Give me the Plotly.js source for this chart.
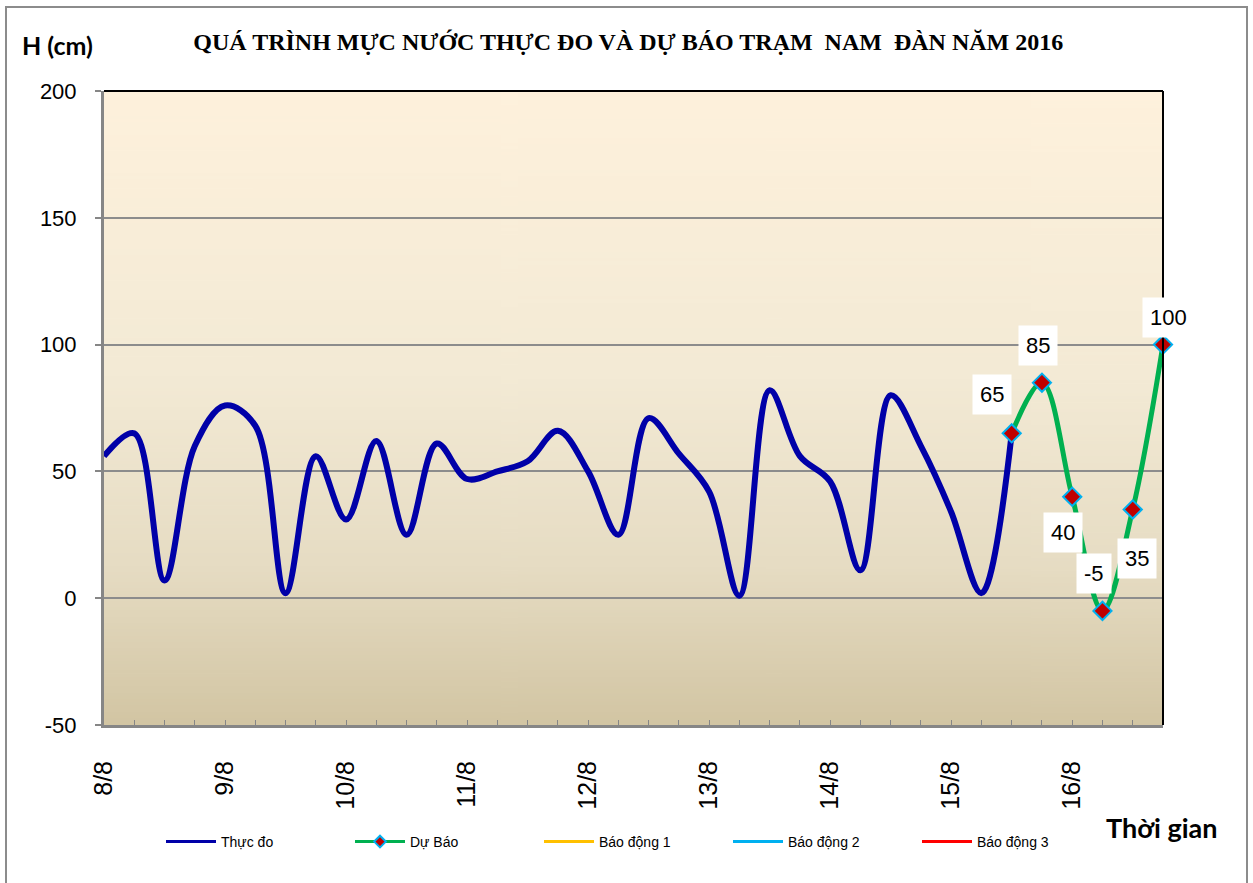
<!DOCTYPE html>
<html>
<head>
<meta charset="utf-8">
<script src="https://cdn.plot.ly/plotly-3.0.1.min.js"></script>
<style>
  html, body { margin: 0; padding: 0; background: #fff; }
  #chart { width: 1253px; height: 883px; }
</style>
</head>
<body>
<div id="chart"></div>
<script>
// ---- Data (6-hourly steps from 8/8 to 16/8 18h) ----
const observedIndex = [0,1,2,3,4,5,6,7,8,9,10,11,12,13,14,15,16,17,18,19,20,21,22,23,24,25,26,27,28,29,30];
const observedValues = [56,65,7,60,76,68,2,56,31,62,25,61,47,50,54,66,50,25,71,57,42,1,82,56,46,11,80,60,34,2,65];
const forecastIndex = [30,31,32,33,34,35];
const forecastValues = [65,85,40,-5,35,100];
const tickIndex = [0,4,8,12,16,20,24,28,32];
const tickLabels = ["8/8","9/8","10/8","11/8","12/8","13/8","14/8","15/8","16/8"];
const yTickVals = [-50,0,50,100,150,200];
const yTickText = ["-50","0","50","100","150","200"];
const seriesNames = ["Thực đo","Dự Báo","Báo động 1","Báo động 2","Báo động 3"];
const seriesColors = ["#0000A8","#00B050","#FFC000","#00B0F0","#FF0000"];
// label offsets (px) for forecast data labels
const labelDX = [-20,-4,-9,-8,4,5];
const labelDY = [39,37,-36,37,-49,27];

// ---- gradient background via canvas ----
function gradientURL() {
  const c = document.createElement('canvas');
  c.width = 4; c.height = 400;
  const g = c.getContext('2d');
  const gr = g.createLinearGradient(0,0,0,400);
  gr.addColorStop(0, '#FEF1DC');
  gr.addColorStop(0.45, '#F3EAD5');
  gr.addColorStop(0.75, '#E6DCC3');
  gr.addColorStop(1, '#D2C5A3');
  g.fillStyle = gr; g.fillRect(0,0,4,400);
  return c.toDataURL('image/png');
}

const L = 104, R = 1163, T = 91, B = 725;
const W = R - L, H = B - T;
const px = v => (v - L) / W;
const py = v => (B - v) / H;

const traces = [
  {
    x: observedIndex, y: observedValues, name: seriesNames[0], type: 'scatter', mode: 'lines',
    line: {color: seriesColors[0], width: 6, shape: 'spline', smoothing: 1}, showlegend: false
  },
  {
    x: forecastIndex, y: forecastValues, name: seriesNames[1], type: 'scatter', mode: 'lines+markers',
    line: {color: seriesColors[1], width: 5, shape: 'spline', smoothing: 1},
    marker: {symbol: 'diamond', size: 14, color: '#C00000', line: {color: '#00B0F0', width: 2}},
    cliponaxis: false, showlegend: false
  }
];
// legend entries (thin legend keys, no data of their own)
for (let k = 0; k < seriesNames.length; k++) {
  const t = {x: [null], y: [null], name: seriesNames[k], type: 'scatter',
    mode: k === 1 ? 'lines+markers' : 'lines',
    line: {color: seriesColors[k], width: 3}, showlegend: true};
  if (k === 1) t.marker = {symbol: 'diamond', size: 9, color: '#C00000', line: {color: '#00B0F0', width: 2}};
  traces.push(t);
}

const annotations = forecastIndex.map((xi, i) => ({
  x: xi, y: forecastValues[i], xref: 'x', yref: 'y',
  text: String(forecastValues[i]), showarrow: false,
  xshift: labelDX[i], yshift: labelDY[i],
  bgcolor: '#FFFFFF', borderpad: 7,
  font: {family: 'Liberation Sans, Arial, sans-serif', size: 22, color: '#000'}
}));
annotations.push({
  xref: 'paper', yref: 'paper', x: px(20), y: py(45), xanchor: 'left', yanchor: 'middle',
  text: '<b>H (cm)</b>', showarrow: false,
  font: {family: 'Lato, Noto Sans, sans-serif', size: 25, color: '#000'}
});
annotations.push({
  xref: 'paper', yref: 'paper', x: px(1104), y: py(828), xanchor: 'left', yanchor: 'middle',
  text: '<b>Thời gian</b>', showarrow: false,
  font: {family: 'Lato, Noto Sans, sans-serif', size: 27, color: '#000'}
});

const layout = {
  width: 1253, height: 883,
  margin: {l: L, r: 1253 - R, t: T, b: 883 - B},
  paper_bgcolor: '#FFFFFF', plot_bgcolor: '#FEF1DC',
  title: {
    text: '<b>QUÁ TRÌNH MỰC NƯỚC THỰC ĐO VÀ DỰ BÁO TRẠM  NAM  ĐÀN NĂM 2016</b>',
    font: {family: 'Liberation Serif, Times New Roman, serif', size: 24, color: '#000'},
    x: px(635), xanchor: 'center', y: 1 - 42/883, yanchor: 'middle'
  },
  showlegend: true,
  legend: {
    orientation: 'h', x: px(161), xanchor: 'left', y: py(842), yanchor: 'middle',
    font: {family: 'Liberation Sans, Arial, sans-serif', size: 14, color: '#000'},
    entrywidth: 124, entrywidthmode: 'pixels', itemwidth: 50,
    bgcolor: 'rgba(0,0,0,0)', traceorder: 'normal'
  },
  xaxis: {
    range: [0, 35], tickmode: 'array', tickvals: tickIndex, ticktext: tickLabels,
    tickangle: -90, ticks: 'inside', ticklen: 5, tickcolor: '#868686', tickwidth: 1,
    minor: {dtick: 1, tick0: 0, ticks: 'inside', ticklen: 5, tickcolor: '#868686', tickwidth: 1, showgrid: false},
    showgrid: false, zeroline: false,
    showline: true, linecolor: '#868686', linewidth: 3,
    tickfont: {family: 'Liberation Sans, Arial, sans-serif', size: 25, color: '#000'},
    ticklabelstandoff: 23
  },
  yaxis: {
    range: [-50, 200], tickmode: 'array', tickvals: yTickVals, ticktext: yTickText,
    ticks: 'outside', ticklen: 6, tickcolor: '#868686', tickwidth: 2,
    showgrid: true, gridcolor: '#8C8C8C', gridwidth: 2, zeroline: false,
    showline: true, linecolor: '#868686', linewidth: 3,
    tickfont: {family: 'Liberation Sans, Arial, sans-serif', size: 22, color: '#000'},
    ticklabelstandoff: 14
  },
  images: [{
    source: gradientURL(), xref: 'paper', yref: 'paper', x: 0, y: 1, sizex: 1, sizey: 1,
    xanchor: 'left', yanchor: 'top', sizing: 'stretch', layer: 'below'
  }],
  shapes: [
    {type: 'line', xref: 'paper', yref: 'paper', x0: 0, x1: 1, y0: 1, y1: 1, line: {color: '#000', width: 2}},
    {type: 'line', xref: 'paper', yref: 'paper', x0: 1, x1: 1, y0: 0, y1: 1, line: {color: '#000', width: 2}},
    {type: 'rect', xref: 'paper', yref: 'paper', x0: px(6), x1: px(1247), y0: py(7), y1: py(895),
     line: {color: '#8C8C8C', width: 2}, fillcolor: 'rgba(0,0,0,0)'}
  ],
  annotations: annotations
};

Plotly.newPlot('chart', traces, layout, {displayModeBar: false, staticPlot: true});
</script>
</body>
</html>
